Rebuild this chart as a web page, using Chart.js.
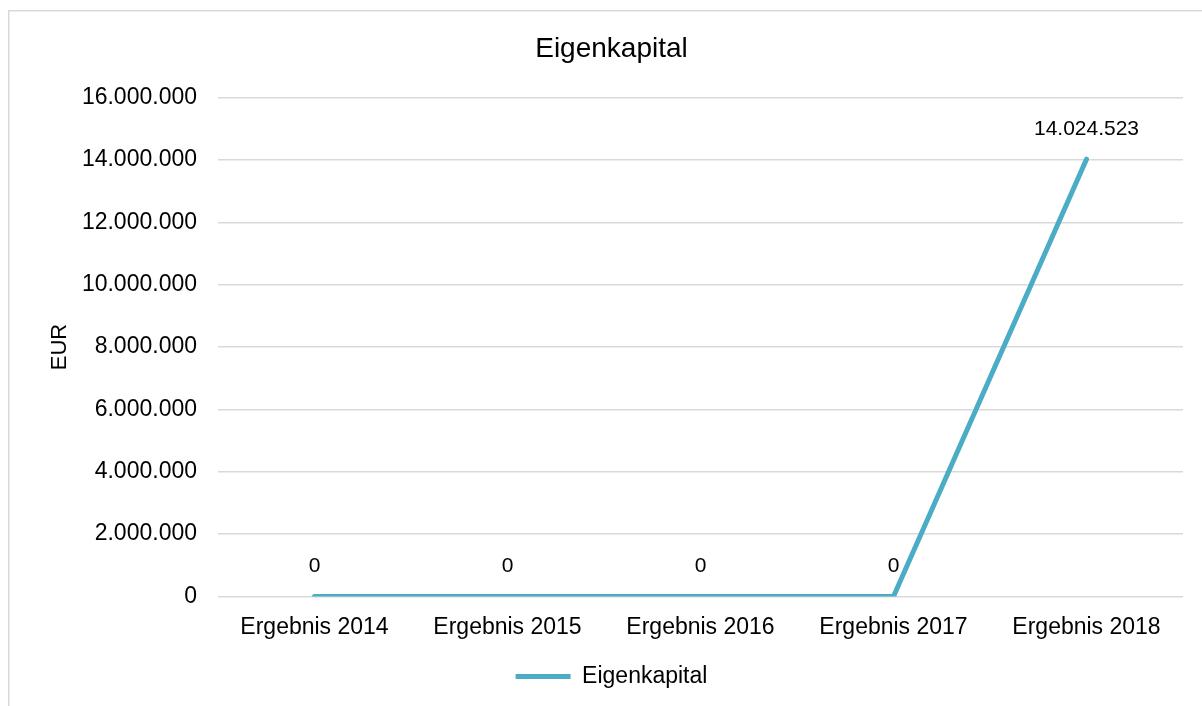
<!DOCTYPE html>
<html>
<head>
<meta charset="utf-8">
<script src="https://cdn.jsdelivr.net/npm/chart.js@4"></script>
<style>
  html, body { margin: 0; padding: 0; background: #fff; }
  #wrap { position: relative; width: 1202px; height: 706px; }
</style>
</head>
<body>
<div id="wrap"><canvas id="chart" width="1202" height="706"></canvas></div>
<script>
/* Eigenkapital – line chart, values in EUR */
var categories = ['Ergebnis 2014', 'Ergebnis 2015', 'Ergebnis 2016', 'Ergebnis 2017', 'Ergebnis 2018'];
var eigenkapital = [0, 0, 0, 0, 14024523];
var yMax = 16000000;
var yStep = 2000000;

var LINE = '#4bacc6';
var GRID = '#d9d9d9';
var FONT = '"Liberation Sans", Arial, sans-serif';

function fmtDE(v) {
  var s = Math.round(Math.abs(v)).toString();
  var out = '';
  while (s.length > 3) { out = '.' + s.slice(-3) + out; s = s.slice(0, -3); }
  return (v < 0 ? '-' : '') + s + out;
}

/* outer frame of the chart object (only top/left edges are visible) */
var framePlugin = {
  id: 'frame',
  beforeDraw: function (chart) {
    var ctx = chart.ctx;
    ctx.save();
    ctx.fillStyle = '#fff';
    ctx.fillRect(0, 0, chart.width, chart.height);
    ctx.strokeStyle = GRID;
    ctx.lineWidth = 1.5;
    ctx.beginPath();
    ctx.moveTo(8.75, chart.height + 2);
    ctx.lineTo(8.75, 10.75);
    ctx.lineTo(chart.width + 2, 10.75);
    ctx.stroke();
    ctx.restore();
  }
};

/* value labels above each point */
var valueLabels = {
  id: 'valueLabels',
  afterDatasetsDraw: function (chart) {
    var ctx = chart.ctx;
    var meta = chart.getDatasetMeta(0);
    ctx.save();
    ctx.font = '21px ' + FONT;
    ctx.fillStyle = '#000';
    ctx.textAlign = 'center';
    ctx.textBaseline = 'middle';
    meta.data.forEach(function (pt, i) {
      ctx.fillText(fmtDE(eigenkapital[i]), pt.x, pt.y - 30);
    });
    ctx.restore();
  }
};

new Chart(document.getElementById('chart'), {
  type: 'line',
  data: {
    labels: categories,
    datasets: [{
      label: 'Eigenkapital',
      data: eigenkapital,
      borderColor: LINE,
      backgroundColor: LINE,
      borderWidth: 5,
      borderCapStyle: 'round',
      borderJoinStyle: 'round',
      pointRadius: 0,
      pointHoverRadius: 0,
      tension: 0,
      fill: false
    }]
  },
  options: {
    responsive: false,
    animation: false,
    events: [],
    layout: { padding: { left: 40, right: 19, top: 0, bottom: 8 } },
    plugins: {
      title: {
        display: true,
        text: 'Eigenkapital',
        color: '#000',
        font: { family: FONT, size: 28, weight: 'normal' },
        padding: { top: 32, bottom: 32 }
      },
      legend: {
        position: 'bottom',
        labels: {
          color: '#000',
          font: { family: FONT, size: 23 },
          usePointStyle: true,
          pointStyle: 'line',
          pointStyleWidth: 55,
          padding: 7
        }
      },
      tooltip: { enabled: false }
    },
    scales: {
      x: {
        offset: true,
        grid: { display: false, drawTicks: false },
        border: { display: false },
        ticks: { color: '#000', font: { family: FONT, size: 23 }, padding: 17, maxRotation: 0 }
      },
      y: {
        min: 0,
        max: yMax,
        afterFit: function (scale) { scale.width = 178; },
        grid: { color: GRID, lineWidth: 1.5, drawTicks: false },
        border: { display: false },
        ticks: {
          stepSize: yStep,
          color: '#000',
          font: { family: FONT, size: 23 },
          padding: 21,
          callback: function (v) { return fmtDE(v); }
        },
        title: {
          display: true,
          text: 'EUR',
          color: '#000',
          font: { family: FONT, size: 22 },
          padding: { top: 7, bottom: 0 }
        }
      }
    }
  },
  plugins: [framePlugin, valueLabels]
});
</script>
</body>
</html>
